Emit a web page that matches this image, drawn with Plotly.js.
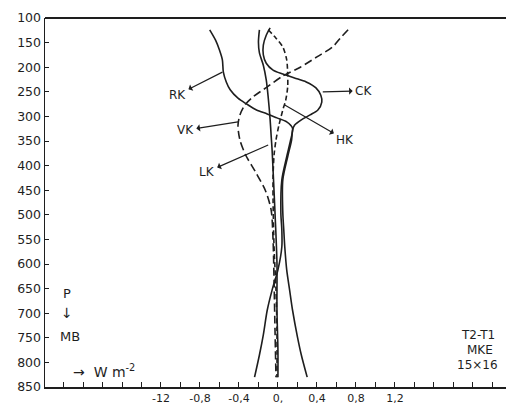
<!DOCTYPE html>
<html>
<head>
<meta charset="utf-8">
<script src="https://cdn.plot.ly/plotly-3.0.1.min.js"></script>
<style>
  body { margin: 0; background: #fff; }
  #chart { width: 508px; height: 406px; }
</style>
</head>
<body>
<div id="chart"></div>
<script>
// pressure levels (mb) and energy terms (W m-2)
var rkX = [-0.70, -0.64, -0.60, -0.57, -0.56, -0.53, -0.49, -0.41, -0.32, -0.22, -0.11, -0.01, 0.09, 0.15, 0.13, 0.09, 0.04, 0.03, 0.04, 0.04, 0.00, -0.06, -0.11, -0.15, -0.19, -0.24];
var rkP = [124, 145, 165, 185, 210, 230, 246, 263, 275, 287, 295, 303, 311, 324, 348, 382, 429, 496, 531, 565, 612, 653, 694, 744, 785, 830];

var ckX = [-0.08, -0.12, -0.15, -0.15, -0.12, -0.05, 0.05, 0.17, 0.29, 0.39, 0.44, 0.45, 0.41, 0.33, 0.24, 0.17, 0.15, 0.14, 0.10, 0.05, 0.05, 0.06, 0.07, 0.09, 0.12, 0.15, 0.20, 0.24, 0.30];
var ckP = [120, 135, 155, 175, 192, 206, 214, 222, 230, 242, 257, 271, 287, 297, 307, 318, 328, 348, 382, 429, 496, 531, 565, 612, 653, 694, 748, 785, 830];

var lkX = [-0.19, -0.20, -0.19, -0.15, -0.12, -0.10, -0.08, -0.07, -0.06, -0.05, -0.03, -0.01, -0.01, 0.00, 0.00];
var lkP = [124, 149, 171, 196, 226, 261, 307, 338, 368, 409, 496, 598, 694, 775, 830];

var hkX = [-0.10, -0.02, 0.05, 0.09, 0.10, 0.10, 0.08, 0.05, 0.01, -0.02, -0.04, -0.05, -0.05, -0.04, -0.02, -0.01, -0.01];
var hkP = [124, 141, 159, 185, 216, 240, 267, 287, 318, 348, 379, 423, 470, 565, 653, 734, 830];

var vkX = [0.72, 0.64, 0.56, 0.40, 0.23, 0.05, -0.11, -0.26, -0.34, -0.39, -0.41, -0.39, -0.33, -0.23, -0.13, -0.07, -0.05, -0.04, -0.03, -0.02];
var vkP = [124, 141, 159, 179, 200, 218, 240, 261, 277, 297, 318, 348, 379, 413, 450, 490, 551, 633, 734, 830];

// labelled ticks (printed as in the original) and the small unlabelled ones
var xTickVals = [-1.2, -0.8, -0.4, 0, 0.4, 0.8, 1.2];
var xTickText = ['-12', '-0,8', '-0,4', '0,', '0,4', '0,8', '1,2'];
var xMinorVals = [-2.2, -2.0, -1.8, -1.6, -1.4, -1.0, -0.6, -0.2, 0.2, 0.6, 1.0, 1.4, 1.6, 1.8, 2.0, 2.2];
var pTicks = [100, 150, 200, 250, 300, 350, 400, 450, 500, 550, 600, 650, 700, 750, 800, 850];

var ink = '#1e1e1e';
var fnt = 'DejaVu Sans, sans-serif';

function curve(x, y, dash) {
  return {
    x: x, y: y, type: 'scatter', mode: 'lines',
    line: {color: ink, width: 1.6, dash: dash, shape: 'spline', smoothing: 0.8},
    hoverinfo: 'skip', showlegend: false
  };
}

var data = [
  curve(rkX, rkP, 'solid'),
  curve(ckX, ckP, 'solid'),
  curve(lkX, lkP, 'solid'),
  curve(hkX, hkP, '5px,3px'),
  curve(vkX, vkP, '8px,4px')
];

// label with an arrow that starts on the curve and points at the label
function tag(cx, cp, lx, lp, txt) {
  return {
    x: cx, y: cp, ax: lx, ay: lp, xref: 'x', yref: 'y', axref: 'x', ayref: 'y',
    text: txt, showarrow: true, arrowside: 'start', arrowhead: 2, arrowsize: 1,
    arrowwidth: 1.2, arrowcolor: ink, standoff: 0, startstandoff: 1,
    font: {family: fnt, size: 12, color: ink}
  };
}
function label(x, y, txt, size) {
  return {x: x, y: y, xref: 'x', yref: 'y', text: txt, showarrow: false,
          font: {family: fnt, size: size || 12, color: ink}};
}

var annotations = [
  tag(-0.57, 210, -1.03, 256, 'RK'),
  tag(0.46, 250, 0.88, 248, 'CK'),
  tag(-0.41, 311, -0.95, 328, 'VK'),
  tag(0.07, 277, 0.69, 348, 'HK'),
  tag(-0.10, 358, -0.73, 413, 'LK'),
  label(-2.16, 659, 'P', 13),
  label(-2.16, 700, '↓', 14),
  label(-2.13, 748, 'MB', 13),
  label(-1.78, 818, '→  W m<sup>-2</sup>', 14),
  label(2.05, 744, 'T2-T1'),
  label(2.07, 775, 'MKE'),
  label(2.05, 805, '15×16')
];

var layout = {
  width: 508, height: 406,
  margin: {l: 45, r: 2, t: 18, b: 19},
  paper_bgcolor: '#fff', plot_bgcolor: '#fff',
  font: {family: fnt, size: 12, color: ink},
  xaxis: {
    range: [-2.39, 2.34], showgrid: false, zeroline: false,
    showline: true, linecolor: ink, linewidth: 1.5,
    ticks: 'inside', ticklen: 5, tickcolor: ink, tickwidth: 1,
    tickmode: 'array', tickvals: xTickVals, ticktext: xTickText,
    tickfont: {family: fnt, size: 11, color: ink},
    minor: {tickmode: 'array', tickvals: xMinorVals, ticks: 'inside',
            ticklen: 5, tickwidth: 1, tickcolor: ink, showgrid: false}
  },
  yaxis: {
    range: [850, 100], showgrid: false, zeroline: false,
    showline: true, linecolor: ink, linewidth: 1.5,
    ticks: 'inside', ticklen: 4, tickcolor: ink, tickwidth: 1,
    tickmode: 'array', tickvals: pTicks,
    tickfont: {family: fnt, size: 12.5, color: ink}
  },
  shapes: [
    {type: 'line', xref: 'paper', yref: 'paper', x0: 0, x1: 1, y0: 1, y1: 1,
     line: {color: ink, width: 2}}
  ],
  annotations: annotations
};

Plotly.newPlot('chart', data, layout, {staticPlot: true});
</script>
</body>
</html>
